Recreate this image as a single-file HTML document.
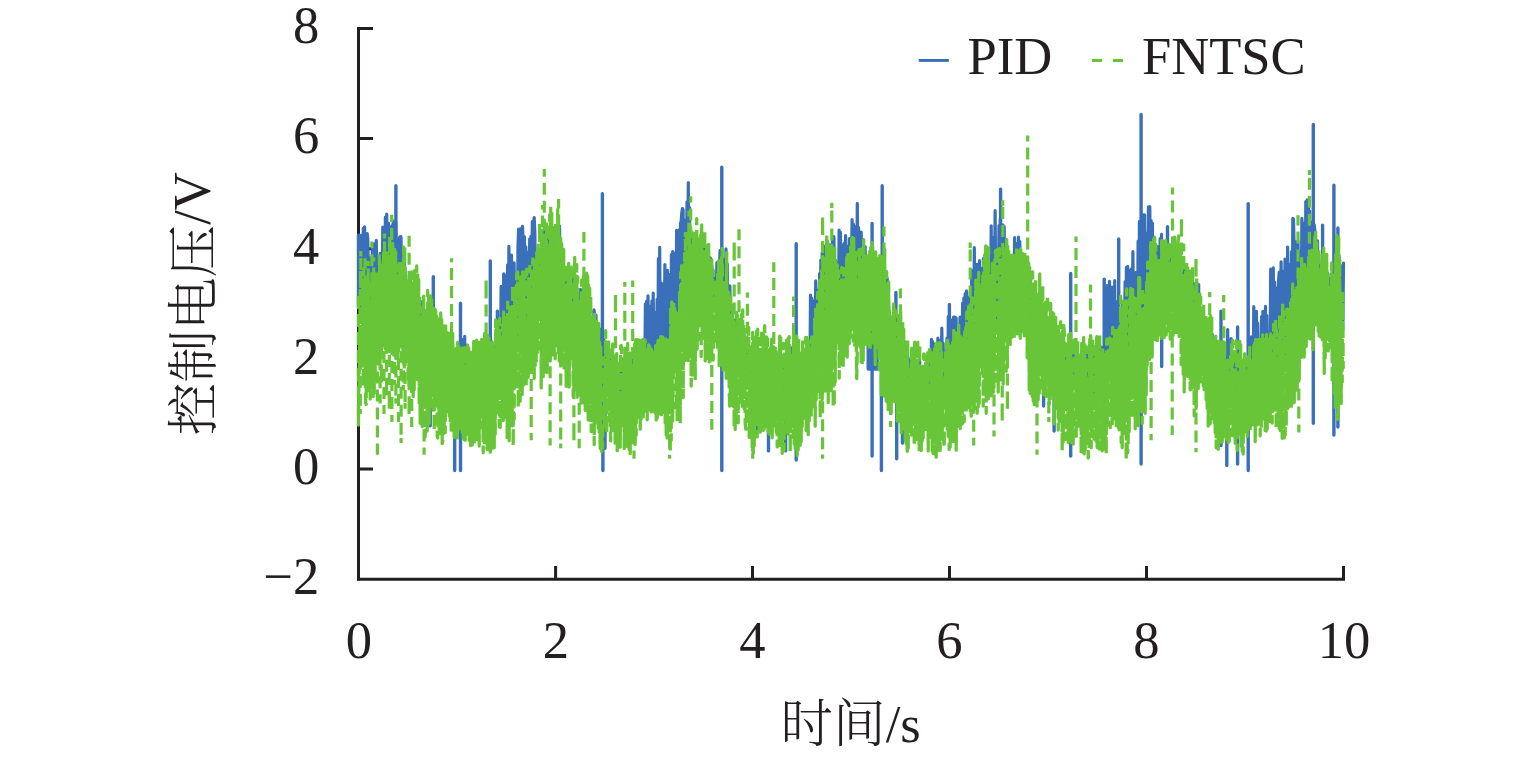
<!DOCTYPE html>
<html lang="zh">
<head>
<meta charset="utf-8">
<title>控制电压 PID / FNTSC</title>
<style>
html,body{margin:0;padding:0;background:#fff;}
body{width:1535px;height:758px;overflow:hidden;}
svg{display:block;}
text{font-family:"Liberation Serif","Noto Serif CJK SC",serif;font-size:52.6px;fill:#231f20;}
.cj{font-family:"Noto Serif CJK SC","Liberation Serif",serif;font-weight:300;}
</style>
</head>
<body>
<svg width="1535" height="758" viewBox="0 0 1535 758">
<rect width="1535" height="758" fill="#fff"/>
<g stroke="#231f20" stroke-width="3" fill="none" stroke-linecap="butt">
<path d="M358.5 27V580.6"/>
<path d="M357 579.2H1345"/>
<path d="M358.5 28.5H373M358.5 138.6H373M358.5 248.7H373M358.5 358.8H373M358.5 468.9H373"/>
<path d="M555.6 579V566M752.5 579V566M949.5 579V566M1146.5 579V566M1343.5 579V566"/>
</g>
<path d="M358.4 306.0L358.4 235.0L360.7 236.3L361.3 320.1L362.0 234.8L362.6 322.3L363.3 228.4L363.9 332.7L364.6 226.8L365.2 325.6L365.9 243.7L366.6 327.5L367.2 233.6L367.8 239.0L368.5 279.7L369.1 321.8L369.8 258.4L370.4 323.4L371.1 257.6L371.8 336.5L372.4 243.8L373.1 315.0L373.7 262.3L374.3 243.9L375.0 258.3L375.6 325.1L376.3 240.4L376.9 318.7L377.6 264.2L378.2 308.9L378.9 259.2L379.6 311.1L380.2 253.3L380.8 280.7L381.5 304.8L382.1 293.8L382.8 227.0L383.4 297.3L384.1 305.0L384.8 304.1L385.4 217.1L386.1 292.5L386.7 214.1L387.3 293.5L388.0 234.8L388.6 223.4L389.3 255.0L389.9 288.5L390.6 229.1L391.2 272.0L391.9 225.8L392.6 276.0L393.2 221.0L393.8 289.5L394.5 223.2L395.1 286.5L395.8 222.0L396.4 296.3L397.1 238.9L397.8 291.9L398.4 243.8L399.1 273.1L399.7 236.8L400.3 295.2L401.0 236.7L401.6 276.4L402.3 255.4L402.9 253.2L403.6 256.3L404.2 261.9L404.9 268.2L405.6 307.9L406.2 287.1L406.8 316.8L407.5 292.0L408.1 314.2L408.8 285.8L409.4 308.0L410.1 282.7L410.8 325.9L411.4 285.8L412.1 322.8L412.7 285.1L413.3 325.5L414.0 285.3L414.6 330.7L415.3 289.5L415.9 318.4L416.6 282.8L417.2 336.7L417.9 289.3L418.6 335.4L419.2 309.5L419.8 325.1L420.5 301.4L421.1 348.8L421.8 302.3L422.4 342.9L423.1 356.4L423.8 352.8L424.4 313.7L425.1 353.4L425.7 314.1L426.4 356.1L427.0 309.5L427.6 347.0L428.3 309.4L428.9 345.0L429.6 312.1L430.2 311.8L430.9 327.6L431.6 352.0L432.2 323.2L432.9 357.7L433.5 318.0L434.1 358.2L434.8 319.7L435.4 363.8L436.1 329.2L436.8 363.9L437.4 329.8L438.1 368.9L438.7 325.2L439.4 373.7L440.0 324.9L440.6 373.2L441.3 329.9L441.9 369.7L442.6 350.6L443.2 374.4L443.9 343.8L444.6 374.7L445.2 342.0L445.9 371.3L446.5 343.1L447.1 376.9L447.8 348.9L448.4 373.4L449.1 347.3L449.8 380.8L450.4 350.5L451.1 380.0L451.7 351.5L452.4 374.4L453.0 349.0L453.6 380.4L454.3 357.5L454.9 385.2L455.6 363.7L456.2 383.0L456.9 357.6L457.6 354.2L458.2 388.8L458.9 384.4L459.5 356.0L460.1 388.0L460.8 357.7L461.4 389.3L462.1 339.7L462.8 390.9L463.4 348.9L464.1 393.4L464.7 336.4L465.4 393.9L466.0 346.5L466.6 388.1L467.3 345.2L467.9 377.0L468.6 392.4L469.2 388.3L469.9 362.0L470.6 389.9L471.2 372.7L471.9 388.6L472.5 359.5L473.1 389.1L473.8 364.4L474.4 393.5L475.1 344.0L475.8 387.4L476.4 350.0L477.1 366.3L477.7 346.0L478.4 380.4L479.0 344.4L479.6 355.4L480.3 357.8L480.9 392.6L481.6 393.9L482.2 388.9L482.9 358.2L483.6 383.1L484.2 356.0L484.9 393.8L485.5 358.5L486.1 388.9L486.8 360.4L487.4 380.1L488.1 348.2L488.8 389.4L489.4 352.1L490.0 375.5L490.7 345.9L491.4 341.9L492.0 342.1L492.6 385.3L493.3 348.9L493.9 385.8L494.6 344.7L495.2 382.7L495.9 349.0L496.5 382.6L497.2 350.7L497.9 377.4L498.5 377.4L499.1 369.6L499.8 323.1L500.4 370.7L501.1 286.4L501.8 352.3L502.4 297.9L503.0 324.8L503.7 273.8L504.4 366.8L505.0 287.7L505.6 357.2L506.3 275.0L506.9 370.7L507.6 264.9L508.2 350.6L508.9 246.4L509.5 364.1L510.2 260.7L510.9 321.5L511.5 255.1L512.1 372.1L512.8 285.0L513.5 363.9L514.1 262.9L514.8 317.7L515.4 347.1L516.0 337.6L516.7 273.8L517.4 334.9L518.0 246.7L518.6 229.2L519.3 334.8L520.0 324.7L520.6 228.9L521.2 336.5L521.9 229.8L522.5 226.4L523.2 242.7L523.9 328.3L524.5 236.8L525.1 316.7L525.8 246.9L526.5 318.5L527.1 252.2L527.8 322.8L528.4 268.7L529.0 319.8L529.7 238.8L530.4 287.2L531.0 236.0L531.6 320.7L532.3 221.7L533.0 316.2L533.6 223.9L534.2 217.6L534.9 234.0L535.5 310.4L536.2 255.7L536.9 297.5L537.5 266.6L538.1 290.4L538.8 256.1L539.5 301.0L540.1 261.0L540.8 304.6L541.4 236.1L542.0 285.6L542.7 299.6L543.4 284.1L544.0 231.6L544.6 290.7L545.3 234.9L546.0 281.8L546.6 236.8L547.2 273.7L547.9 293.4L548.5 236.8L549.2 252.5L549.9 228.0L550.5 235.4L551.1 270.7L551.8 232.5L552.5 269.3L553.1 237.6L553.8 283.2L554.4 258.8L555.0 287.4L555.7 239.8L556.4 272.9L557.0 233.5L557.6 272.5L558.3 227.9L559.0 283.3L559.6 226.0L560.2 291.1L560.9 257.2L561.5 297.3L562.2 260.3L562.9 299.0L563.5 271.5L564.1 318.2L564.8 274.5L565.5 316.3L566.1 287.0L566.8 317.6L567.4 279.0L568.0 318.3L568.7 289.4L569.4 320.3L570.0 287.4L570.6 323.2L571.3 285.3L572.0 325.8L572.6 288.9L573.2 276.9L573.9 274.8L574.5 325.5L575.2 329.3L575.9 280.6L576.5 329.7L577.1 318.2L577.8 289.7L578.5 323.9L579.1 296.0L579.8 329.8L580.4 289.3L581.0 332.1L581.7 292.3L582.4 339.2L583.0 290.4L583.6 338.9L584.3 289.9L585.0 341.8L585.6 294.9L586.2 342.0L586.9 297.1L587.5 344.3L588.2 301.7L588.9 336.5L589.5 308.0L590.1 334.5L590.8 318.5L591.5 358.8L592.1 325.1L592.8 358.7L593.4 330.7L594.0 309.9L594.7 316.5L595.4 364.3L596.0 315.2L596.6 375.3L597.3 323.9L598.0 372.0L598.6 330.6L599.2 380.4L599.9 329.1L600.5 329.7L601.2 346.7L601.9 383.4L602.5 336.9L603.1 366.0L603.8 339.3L604.5 381.4L605.1 352.0L605.8 380.1L606.4 348.4L607.0 383.6L607.7 361.7L608.4 383.9L609.0 367.7L609.6 380.8L610.3 359.0L611.0 381.9L611.6 362.4L612.2 393.3L612.9 371.7L613.5 390.8L614.2 375.2L614.9 386.3L615.5 361.7L616.1 382.6L616.8 365.6L617.5 398.9L618.1 367.3L618.8 400.5L619.4 375.5L620.0 362.9L620.7 367.1L621.4 398.1L622.0 377.5L622.6 395.5L623.3 364.3L624.0 380.2L624.6 360.9L625.2 392.6L625.9 365.8L626.5 388.7L627.2 365.2L627.9 388.5L628.5 360.0L629.1 398.4L629.8 359.4L630.5 395.8L631.1 356.5L631.8 392.1L632.4 366.3L633.0 394.0L633.7 356.4L634.4 386.5L635.0 361.3L635.6 390.5L636.3 362.6L637.0 386.0L637.6 352.2L638.2 384.4L638.9 358.3L639.5 376.5L640.2 355.8L640.9 375.1L641.5 357.8L642.1 375.0L642.8 360.5L643.5 355.9L644.1 361.3L644.8 372.5L645.4 303.9L646.0 380.8L646.7 301.0L647.4 371.5L648.0 295.8L648.6 368.9L649.3 312.4L650.0 378.5L650.6 306.1L651.2 358.9L651.9 300.9L652.5 377.8L653.2 293.2L653.9 354.0L654.5 334.5L655.1 363.7L655.8 312.4L656.5 371.1L657.1 299.4L657.8 374.5L658.4 258.5L659.0 372.2L659.7 247.4L660.4 367.0L661.0 282.9L661.6 322.8L662.3 287.9L663.0 352.2L663.6 283.7L664.2 333.3L664.9 264.5L665.5 361.2L666.2 298.9L666.9 381.9L667.5 270.3L668.1 354.5L668.8 274.4L669.5 374.3L670.1 295.1L670.8 374.0L671.4 254.7L672.0 323.5L672.7 251.5L673.4 346.1L674.0 266.8L674.6 312.1L675.3 253.1L676.0 331.0L676.6 230.3L677.2 324.2L677.9 257.6L678.5 350.1L679.2 229.9L679.9 340.3L680.5 223.0L681.1 222.4L681.8 212.7L682.5 208.5L683.1 209.9L683.8 318.4L684.4 219.8L685.0 268.0L685.7 309.1L686.4 309.2L687.0 201.9L687.6 276.3L688.3 182.6L689.0 294.9L689.6 207.6L690.2 298.7L690.9 231.2L691.5 280.2L692.2 261.9L692.9 315.0L693.5 246.7L694.1 295.2L694.8 237.2L695.5 282.0L696.1 254.8L696.8 279.5L697.4 245.3L698.0 278.7L698.7 248.2L699.4 242.8L700.0 258.6L700.6 277.6L701.3 250.4L702.0 242.5L702.6 291.1L703.2 286.6L703.9 243.6L704.5 283.2L705.2 271.2L705.9 287.8L706.5 262.6L707.1 300.1L707.8 303.5L708.5 304.0L709.1 277.3L709.8 302.7L710.4 257.9L711.0 298.8L711.7 265.3L712.4 304.4L713.0 270.3L713.6 305.7L714.3 278.5L715.0 302.7L715.6 282.9L716.2 300.7L716.9 262.7L717.5 288.7L718.2 301.0L718.9 297.0L719.5 269.5L720.1 250.4L720.8 255.0L721.5 286.1L722.1 268.2L722.8 303.4L723.4 259.4L724.0 289.3L724.7 264.0L725.4 294.8L726.0 248.9L726.6 292.5L727.3 264.0L728.0 326.9L728.6 334.2L729.2 317.0L729.9 285.9L730.5 334.5L731.2 318.2L731.9 359.1L732.5 313.8L733.1 359.4L733.8 320.6L734.5 349.4L735.1 325.8L735.8 319.8L736.4 319.0L737.0 349.9L737.7 325.2L738.4 367.5L739.0 323.6L739.6 354.4L740.3 324.7L741.0 357.9L741.6 363.4L742.2 359.7L742.9 338.1L743.5 361.3L744.2 335.6L744.9 366.8L745.5 341.9L746.1 358.0L746.8 340.6L747.5 357.5L748.1 344.3L748.8 378.2L749.4 347.5L750.0 370.5L750.7 350.1L751.4 386.1L752.0 365.3L752.6 385.7L753.3 391.7L754.0 386.0L754.6 390.1L755.2 377.5L755.9 360.0L756.5 379.8L757.2 349.4L757.9 379.5L758.5 351.9L759.1 380.8L759.8 350.1L760.5 369.7L761.1 351.8L761.8 378.5L762.4 357.6L763.0 377.9L763.7 342.1L764.4 374.3L765.0 350.4L765.6 373.1L766.3 342.0L767.0 374.9L767.6 378.0L768.2 376.0L768.9 355.2L769.5 374.7L770.2 359.7L770.9 379.8L771.5 357.9L772.1 389.0L772.8 361.4L773.5 391.3L774.1 358.7L774.8 381.9L775.4 357.4L776.0 387.1L776.7 364.2L777.4 394.0L778.0 355.6L778.6 390.6L779.3 356.8L780.0 390.1L780.6 353.3L781.2 391.9L781.9 355.5L782.5 392.3L783.2 360.7L783.9 394.8L784.5 361.2L785.1 378.9L785.8 359.1L786.5 387.6L787.1 365.9L787.8 384.2L788.4 362.2L789.0 392.3L789.7 350.5L790.4 377.7L791.0 348.1L791.6 391.4L792.3 361.5L793.0 346.8L793.6 347.6L794.2 381.6L794.9 356.4L795.5 388.2L796.2 354.6L796.9 386.1L797.5 363.0L798.1 390.7L798.8 370.9L799.5 357.1L800.1 359.6L800.8 390.5L801.4 392.2L802.0 389.7L802.7 358.5L803.4 385.5L804.0 357.4L804.6 386.7L805.3 357.4L806.0 386.9L806.6 363.0L807.2 377.6L807.9 360.2L808.5 376.7L809.2 348.3L809.9 376.6L810.5 295.0L811.1 360.6L811.8 298.1L812.5 372.6L813.1 314.4L813.8 374.3L814.4 300.8L815.0 365.5L815.7 280.9L816.4 358.1L817.0 303.9L817.6 348.2L818.3 290.0L819.0 332.9L819.6 273.5L820.2 322.1L820.9 260.0L821.5 338.4L822.2 252.5L822.9 323.3L823.5 245.9L824.1 322.6L824.8 258.7L825.5 298.1L826.1 254.7L826.8 299.9L827.4 321.5L828.0 319.5L828.7 265.3L829.4 308.5L830.0 244.8L830.6 290.5L831.3 245.3L832.0 302.8L832.6 236.6L833.2 310.0L833.9 236.7L834.5 287.4L835.2 260.0L835.9 322.9L836.5 262.6L837.1 325.1L837.8 319.9L838.5 319.7L839.1 230.1L839.8 316.7L840.4 232.2L841.0 291.1L841.7 244.9L842.4 301.1L843.0 267.7L843.6 298.4L844.3 243.1L845.0 312.8L845.6 235.5L846.2 290.7L846.9 246.0L847.5 299.3L848.2 256.8L848.9 282.8L849.5 238.5L850.1 281.2L850.8 250.7L851.5 263.7L852.1 219.7L852.8 263.6L853.4 224.1L854.0 278.8L854.7 226.5L855.4 306.9L856.0 244.9L856.6 311.1L857.3 203.4L858.0 264.7L858.6 227.6L859.2 277.1L859.9 244.4L860.5 300.5L861.2 232.1L861.9 281.1L862.5 239.7L863.2 291.7L863.8 248.7L864.5 292.5L865.1 246.6L865.8 292.3L866.4 265.9L867.0 299.6L867.7 274.1L868.4 306.3L869.0 277.6L869.7 295.0L870.3 272.1L871.0 304.9L871.6 261.8L872.2 303.5L872.9 260.5L873.5 262.3L874.2 265.1L874.8 305.5L875.5 278.6L876.2 310.4L876.8 316.4L877.5 305.9L878.1 271.6L878.8 315.3L879.4 272.7L880.0 312.4L880.7 267.8L881.3 309.1L882.0 276.3L882.7 300.1L883.3 273.6L884.0 303.2L884.6 273.1L885.2 327.8L885.9 276.8L886.5 320.2L887.2 278.3L887.8 334.1L888.5 300.8L889.2 343.8L889.8 315.4L890.5 352.1L891.1 318.1L891.8 345.1L892.4 319.9L893.0 350.9L893.7 326.7L894.3 357.2L895.0 323.2L895.7 355.8L896.3 321.8L897.0 360.0L897.6 326.3L898.2 362.9L898.9 322.8L899.5 358.9L900.2 329.9L900.8 363.2L901.5 341.5L902.2 364.0L902.8 334.9L903.5 378.6L904.1 355.2L904.8 377.0L905.4 362.9L906.0 385.3L906.7 355.7L907.3 390.9L908.0 357.6L908.7 387.9L909.3 359.8L910.0 392.6L910.6 372.2L911.2 386.1L911.9 363.4L912.5 388.5L913.2 357.7L913.8 392.7L914.5 358.4L915.2 391.0L915.8 370.4L916.5 388.1L917.1 366.5L917.8 386.7L918.4 371.2L919.0 396.4L919.7 361.5L920.3 397.5L921.0 367.8L921.7 394.7L922.3 373.1L923.0 394.3L923.6 371.7L924.2 391.3L924.9 373.2L925.5 398.6L926.2 367.6L926.8 396.3L927.5 370.2L928.2 389.0L928.8 364.6L929.5 392.0L930.1 357.1L930.8 398.2L931.4 339.3L932.0 391.9L932.7 341.7L933.3 395.5L934.0 344.1L934.7 380.4L935.3 351.2L936.0 393.7L936.6 346.3L937.2 391.7L937.9 338.1L938.5 384.3L939.2 340.5L939.8 385.7L940.5 347.6L941.2 387.4L941.8 328.2L942.5 371.2L943.1 343.0L943.8 375.4L944.4 390.8L945.0 378.9L945.7 393.2L946.3 391.9L947.0 338.1L947.7 389.3L948.3 316.6L949.0 383.5L949.6 331.7L950.2 368.3L950.9 333.1L951.5 393.8L952.2 319.9L952.8 388.9L953.5 317.2L954.2 388.0L954.8 317.0L955.5 388.0L956.1 317.8L956.8 360.3L957.4 333.8L958.0 363.7L958.7 335.3L959.3 356.8L960.0 317.2L960.7 365.5L961.3 324.0L962.0 358.7L962.6 303.2L963.2 351.9L963.9 297.8L964.5 354.6L965.2 293.5L965.8 345.5L966.5 290.9L967.2 352.7L967.8 365.7L968.5 361.9L969.1 297.2L969.8 357.3L970.4 291.7L971.0 353.7L971.7 270.7L972.3 329.5L973.0 286.9L973.7 339.8L974.3 247.7L975.0 346.2L975.6 266.4L976.2 335.5L976.9 264.3L977.5 338.8L978.2 293.2L978.8 331.1L979.5 260.7L980.2 324.4L980.8 268.3L981.5 311.6L982.1 269.2L982.8 332.2L983.4 258.6L984.0 314.7L984.7 331.0L985.3 318.6L986.0 259.6L986.7 325.6L987.3 259.6L988.0 321.2L988.6 324.0L989.2 326.4L989.9 262.1L990.5 313.0L991.2 225.8L991.8 304.8L992.5 251.2L993.2 324.2L993.8 237.3L994.5 294.2L995.1 210.5L995.8 299.7L996.4 321.3L997.0 322.4L997.7 314.6L998.3 290.5L999.0 225.7L999.7 299.9L1000.3 218.7L1001.0 299.0L1001.6 233.3L1002.2 310.5L1002.9 224.9L1003.5 299.6L1004.2 226.5L1004.8 295.6L1005.5 307.4L1006.2 298.7L1006.8 261.6L1007.5 299.1L1008.1 256.4L1008.8 283.8L1009.4 260.7L1010.0 294.4L1010.7 275.7L1011.3 294.5L1012.0 264.5L1012.7 282.0L1013.3 260.1L1014.0 285.9L1014.6 237.7L1015.2 291.6L1015.9 243.4L1016.5 286.5L1017.2 289.9L1017.8 289.8L1018.5 237.2L1019.2 289.5L1019.8 241.5L1020.5 292.1L1021.1 256.8L1021.8 289.6L1022.4 263.8L1023.0 295.1L1023.7 255.8L1024.3 294.4L1025.0 267.0L1025.7 300.8L1026.3 271.2L1027.0 305.8L1027.6 286.7L1028.2 272.6L1028.9 278.1L1029.5 325.2L1030.2 273.1L1030.8 326.5L1031.5 292.2L1032.2 329.9L1032.8 301.7L1033.5 341.6L1034.1 300.2L1034.8 331.7L1035.4 308.8L1036.0 329.9L1036.7 294.8L1037.3 327.2L1038.0 301.3L1038.7 325.3L1039.3 301.7L1040.0 327.6L1040.6 295.8L1041.2 338.8L1041.9 313.5L1042.5 333.0L1043.2 309.6L1043.8 338.8L1044.5 307.5L1045.2 341.9L1045.8 311.2L1046.5 342.4L1047.1 318.3L1047.8 347.6L1048.4 318.2L1049.0 335.6L1049.7 321.4L1050.3 317.1L1051.0 317.7L1051.7 359.4L1052.3 320.1L1053.0 360.1L1053.6 334.3L1054.2 363.0L1054.9 328.5L1055.5 363.1L1056.2 342.1L1056.8 373.6L1057.5 329.8L1058.2 362.7L1058.8 336.8L1059.5 375.5L1060.1 341.3L1060.8 373.6L1061.4 337.5L1062.0 385.1L1062.7 340.4L1063.3 383.9L1064.0 356.0L1064.7 385.1L1065.3 356.7L1066.0 382.8L1066.6 352.5L1067.2 373.5L1067.9 358.6L1068.5 353.5L1069.2 352.6L1069.8 373.9L1070.5 350.2L1071.2 375.6L1071.8 387.9L1072.5 373.3L1073.1 352.5L1073.8 381.8L1074.4 356.9L1075.0 386.5L1075.7 356.7L1076.3 381.4L1077.0 352.6L1077.7 389.4L1078.3 354.7L1079.0 387.6L1079.6 364.4L1080.2 393.3L1080.9 361.8L1081.5 398.9L1082.2 371.4L1082.8 389.2L1083.5 358.7L1084.2 389.5L1084.8 370.2L1085.5 382.1L1086.1 348.0L1086.8 373.7L1087.4 347.9L1088.0 391.4L1088.7 350.6L1089.3 345.7L1090.0 347.1L1090.7 392.2L1091.3 354.8L1092.0 393.2L1092.6 355.7L1093.2 392.4L1093.9 360.0L1094.5 383.2L1095.2 354.7L1095.8 393.0L1096.5 352.8L1097.2 390.5L1097.8 361.2L1098.5 381.5L1099.1 347.5L1099.8 388.7L1100.4 349.1L1101.0 390.1L1101.7 347.0L1102.3 381.7L1103.0 356.9L1103.7 389.9L1104.3 361.2L1105.0 393.5L1105.6 288.8L1106.2 376.5L1106.9 285.6L1107.5 393.3L1108.2 294.8L1108.8 365.7L1109.5 281.3L1110.2 355.7L1110.8 312.4L1111.5 363.8L1112.1 287.1L1112.8 378.3L1113.4 299.9L1114.0 376.0L1114.7 280.7L1115.3 375.7L1116.0 301.6L1116.7 362.2L1117.3 347.0L1118.0 366.6L1118.6 327.3L1119.2 357.1L1119.9 330.2L1120.5 348.7L1121.2 366.4L1121.8 365.8L1122.5 304.9L1123.2 362.1L1123.8 309.2L1124.5 353.6L1125.1 281.5L1125.8 368.3L1126.4 267.4L1127.0 349.8L1127.7 266.3L1128.3 324.3L1129.0 270.1L1129.7 352.8L1130.3 275.8L1131.0 348.8L1131.6 268.8L1132.2 322.2L1132.9 251.5L1133.5 316.4L1134.2 354.0L1134.8 353.9L1135.5 272.7L1136.2 333.3L1136.8 286.1L1137.5 338.2L1138.1 241.0L1138.8 333.6L1139.4 221.4L1140.0 343.2L1140.7 248.5L1141.3 358.3L1142.0 214.0L1142.7 327.3L1143.3 356.0L1144.0 316.7L1144.6 214.8L1145.2 320.4L1145.9 234.2L1146.5 314.8L1147.2 233.2L1147.8 296.9L1148.5 206.9L1149.2 288.7L1149.8 206.7L1150.5 287.0L1151.1 220.5L1151.8 292.8L1152.4 223.2L1153.0 282.3L1153.7 237.0L1154.3 285.9L1155.0 248.5L1155.7 273.8L1156.3 246.4L1157.0 289.1L1157.6 246.7L1158.2 277.3L1158.9 253.0L1159.5 289.8L1160.2 238.5L1160.8 286.2L1161.5 234.4L1162.2 275.4L1162.8 244.1L1163.5 287.1L1164.1 248.0L1164.8 283.3L1165.4 258.2L1166.0 282.0L1166.7 262.6L1167.3 287.4L1168.0 262.6L1168.7 283.2L1169.3 258.1L1170.0 284.0L1170.6 257.3L1171.2 281.0L1171.9 264.8L1172.5 284.7L1173.2 252.0L1173.8 278.3L1174.5 254.1L1175.2 285.4L1175.8 249.9L1176.5 285.0L1177.1 259.5L1177.8 251.2L1178.4 253.5L1179.0 291.7L1179.7 298.2L1180.3 297.8L1181.0 266.8L1181.7 294.6L1182.3 270.7L1183.0 311.5L1183.6 267.9L1184.2 305.1L1184.9 270.8L1185.5 322.2L1186.2 277.5L1186.8 322.9L1187.5 276.2L1188.2 316.9L1188.8 289.2L1189.5 328.8L1190.1 287.8L1190.8 328.3L1191.4 279.1L1192.0 335.1L1192.7 334.2L1193.3 339.1L1194.0 283.7L1194.7 284.4L1195.3 289.7L1196.0 321.5L1196.6 292.7L1197.2 342.0L1197.9 297.4L1198.5 332.8L1199.2 320.8L1199.8 337.9L1200.5 322.6L1201.2 335.2L1201.8 322.0L1202.5 342.9L1203.1 322.2L1203.8 346.7L1204.4 329.3L1205.0 353.3L1205.7 333.1L1206.3 365.0L1207.0 346.8L1207.7 353.1L1208.3 333.7L1209.0 359.3L1209.6 329.5L1210.2 369.7L1210.9 336.0L1211.5 372.9L1212.2 334.2L1212.8 383.0L1213.5 341.2L1214.2 381.9L1214.8 364.6L1215.5 385.7L1216.1 356.8L1216.8 352.1L1217.4 355.5L1218.0 395.4L1218.7 359.3L1219.3 380.1L1220.0 370.8L1220.7 385.4L1221.3 358.3L1222.0 392.1L1222.6 355.8L1223.2 375.4L1223.9 353.2L1224.5 381.4L1225.2 361.8L1225.8 384.7L1226.5 360.1L1227.2 388.9L1227.8 362.8L1228.5 389.5L1229.1 355.4L1229.8 391.2L1230.4 359.6L1231.0 393.5L1231.7 360.7L1232.3 383.1L1233.0 356.5L1233.7 394.4L1234.3 362.3L1235.0 387.9L1235.6 370.1L1236.2 384.7L1236.9 366.7L1237.5 391.1L1238.2 352.9L1238.8 383.4L1239.5 360.8L1240.2 399.5L1240.8 379.8L1241.5 398.0L1242.1 375.3L1242.8 403.0L1243.4 373.1L1244.0 397.5L1244.7 374.8L1245.3 395.3L1246.0 367.8L1246.7 389.2L1247.3 375.5L1248.0 383.5L1248.6 367.1L1249.2 393.6L1249.9 338.7L1250.5 368.2L1251.2 336.8L1251.8 360.2L1252.5 390.9L1253.2 367.3L1253.8 306.6L1254.5 383.9L1255.1 331.1L1255.8 378.2L1256.4 311.3L1257.0 387.1L1257.7 323.0L1258.3 361.8L1259.0 385.1L1259.7 366.4L1260.3 343.8L1261.0 378.9L1261.6 316.6L1262.2 361.3L1262.9 311.3L1263.5 379.8L1264.2 336.2L1264.8 366.2L1265.5 306.3L1266.2 382.6L1266.8 315.5L1267.5 380.2L1268.1 348.4L1268.8 374.4L1269.4 346.3L1270.0 368.0L1270.7 269.0L1271.3 367.3L1272.0 297.5L1272.7 362.1L1273.3 267.8L1274.0 369.2L1274.6 282.2L1275.2 365.1L1275.9 311.2L1276.5 360.7L1277.2 287.8L1277.8 357.5L1278.5 281.1L1279.2 272.3L1279.8 283.9L1280.5 328.5L1281.1 261.8L1281.8 339.8L1282.4 271.2L1283.0 342.6L1283.7 279.4L1284.3 363.4L1285.0 259.1L1285.7 354.3L1286.3 282.6L1287.0 350.8L1287.6 247.0L1288.2 325.5L1288.9 264.6L1289.5 332.6L1290.2 276.3L1290.8 324.4L1291.5 251.6L1292.2 347.2L1292.8 218.4L1293.5 219.0L1294.1 247.7L1294.8 344.3L1295.4 241.5L1296.0 321.7L1296.7 260.6L1297.3 331.0L1298.0 241.3L1298.7 285.4L1299.3 251.9L1300.0 310.5L1300.6 260.5L1301.2 307.2L1301.9 218.4L1302.5 291.3L1303.2 227.3L1303.8 292.8L1304.5 223.2L1305.2 293.5L1305.8 201.6L1306.5 303.1L1307.1 199.9L1307.8 289.3L1308.4 204.7L1309.0 278.8L1309.7 211.0L1310.3 260.1L1311.0 226.2L1311.7 272.7L1312.3 222.0L1313.0 222.2L1313.6 228.6L1314.2 224.7L1314.9 231.3L1315.5 239.8L1316.2 257.9L1316.8 277.7L1317.5 240.9L1318.2 277.1L1318.8 254.6L1319.5 289.2L1320.1 267.6L1320.8 287.7L1321.4 302.9L1322.0 288.5L1322.7 276.8L1323.3 310.0L1324.0 274.7L1324.7 300.4L1325.3 265.3L1326.0 300.5L1326.6 270.4L1327.2 303.6L1327.9 273.5L1328.5 303.9L1329.2 281.5L1329.8 298.9L1330.5 278.4L1331.2 301.2L1331.8 278.1L1332.5 318.5L1333.1 272.3L1333.8 310.3L1334.4 268.2L1335.0 306.3L1335.7 269.6L1336.3 309.7L1337.0 273.8L1337.7 320.6L1338.3 326.6L1339.0 256.2L1339.6 274.5L1340.2 265.0L1340.9 276.6L1341.5 330.3L1342.2 289.3L1342.8 330.3L1343.5 263.1" fill="none" stroke="#3a6fba" stroke-width="3.2" stroke-linejoin="round" stroke-linecap="round"/>
<path d="M395.9 185.7v4.2v-4.2V298.5M430.2 425.8v-4.9v4.9V362.1M433.3 276.7v5.2v-5.2V364.9M447.3 340.1v6.1v-6.1V378.3M454.7 470.6v-4.9v4.9V385.7M460.5 303.2v6.0v-6.0V390.9M460.5 470.6v-0.5v0.5V390.9M490.3 260.9v3.2v-3.2V390.3M497.4 311.1v6.1v-6.1V380.3M547.0 226.6v4.3v-4.3V296.8M602.4 193.6v5.9v-5.9V383.5M602.9 470.6v-1.0v1.0V384.0M605.0 448.2v-3.2v3.2V381.0M721.8 167.2v1.8v-1.8V306.4M721.8 470.6v-3.7v3.7V306.4M757.4 432.4v-3.9v3.9V384.8M768.5 450.9v-0.4v0.4V381.4M785.6 450.9v-1.6v1.6V395.7M796.2 243.7v2.0v-2.0V397.5M796.2 460.1v-6.0v6.0V397.5M868.2 369.1v-5.0v5.0V308.4M870.3 369.1v-1.3v1.3V306.6M872.1 223.4v5.2v-5.2V305.1M872.1 456.1v-1.2v1.2V305.1M874.8 369.1v-4.1v4.1V311.0M877.2 369.1v-1.1v1.1V317.1M881.4 470.6v-0.3v0.3V323.6M882.2 185.7v5.7v-5.7V323.8M895.9 292.5v1.6v-1.6V362.1M896.7 458.8v-1.6v1.6V362.6M902.5 443.0v-6.4v6.4V375.9M949.4 304.5v5.7v-5.7V393.2M1000.6 189.1v2.1v-2.1V315.9M1043.6 406.0v-6.3v6.3V345.9M1054.1 431.1v-3.6v3.6V365.8M1070.7 273.5v4.5v-4.5V391.3M1070.7 456.1v-1.6v1.6V391.3M1104.2 279.3v6.1v-6.1V395.1M1118.7 239.0v4.6v-4.6V371.1M1141.1 114.5v6.3v-6.3V356.7M1141.1 464.1v-5.8v5.8V356.7M1161.7 366.5v-2.2v2.2V289.0M1167.5 226.6v2.5v-2.5V288.0M1198.6 284.6v1.3v-1.3V342.0M1221.0 311.1v1.2v-1.2V394.2M1221.0 445.6v-0.7v0.7V394.2M1226.8 465.4v-2.2v2.2V390.1M1227.6 329.6v4.0v-4.0V391.0M1231.1 338.8v0.3v-0.3V394.9M1237.6 326.9v4.5v-4.5V394.1M1237.6 464.1v-2.4v2.4V394.1M1248.2 203.6v2.2v-2.2V397.8M1248.2 470.6v-5.4v5.4V397.8M1313.3 124.5v3.3v-3.3V297.8M1313.3 423.2v-2.3v2.3V297.8M1322.6 225.3v3.3v-3.3V306.9M1333.9 185.2v4.7v-4.7V324.5M1333.9 435.0v-0.7v0.7V324.5M1337.9 227.9v6.3v-6.3V327.8M1337.9 427.1v-0.4v0.4V327.8" fill="none" stroke="#3a6fba" stroke-width="3.4" stroke-linecap="round"/>
<path d="M358.4 296.0L358.4 425.0L360.7 270.0L361.2 361.2L361.7 289.6L362.2 366.2L362.7 289.0L363.2 386.2L363.7 268.7L364.2 350.3L364.7 289.1L365.2 372.2L365.7 402.9L366.2 404.5L366.7 275.6L367.2 391.0L367.7 294.3L368.2 386.9L368.7 281.1L369.2 393.3L369.7 302.6L370.2 399.0L370.7 307.9L371.2 353.0L371.7 280.8L372.2 378.2L372.7 294.0L373.2 396.5L373.7 295.4L374.2 396.3L374.7 270.4L375.2 381.6L375.7 277.2L376.2 350.4L376.7 303.0L377.2 325.8L377.7 271.3L378.2 357.7L378.7 273.5L379.2 355.5L379.7 260.6L380.2 335.2L380.7 272.1L381.2 358.2L381.7 280.4L382.2 346.6L382.7 265.0L383.2 334.8L383.7 252.8L384.2 337.8L384.7 252.3L385.2 349.1L385.7 252.7L386.2 347.1L386.7 264.1L387.2 350.5L387.7 250.3L388.2 319.5L388.7 256.7L389.2 351.5L389.7 236.0L390.2 342.7L390.7 262.7L391.2 339.0L391.7 243.6L392.2 347.9L392.7 243.3L393.2 350.6L393.7 355.1L394.2 338.7L394.7 249.3L395.2 350.1L395.7 252.3L396.2 358.6L396.7 280.5L397.2 339.4L397.7 357.4L398.2 337.6L398.7 264.5L399.2 339.4L399.7 259.7L400.2 346.1L400.7 268.1L401.2 324.5L401.7 268.5L402.2 350.8L402.7 260.0L403.2 356.1L403.7 247.1L404.2 368.6L404.7 246.4L405.2 328.8L405.7 275.8L406.2 343.6L406.7 292.9L407.2 361.6L407.7 280.9L408.2 383.2L408.7 291.8L409.2 386.1L409.7 313.2L410.2 355.2L410.7 281.5L411.2 381.0L411.7 272.0L412.2 384.6L412.7 304.4L413.2 396.4L413.7 286.7L414.2 391.2L414.7 270.3L415.2 382.2L415.7 274.0L416.2 382.2L416.7 266.0L417.2 371.3L417.7 274.9L418.2 362.4L418.7 279.5L419.2 404.2L419.7 296.5L420.2 423.3L420.7 316.2L421.2 402.9L421.7 335.9L422.2 426.6L422.7 307.0L423.2 372.8L423.7 296.1L424.2 399.7L424.7 322.9L425.2 436.8L425.7 354.5L426.2 402.8L426.7 310.2L427.2 431.1L427.7 290.5L428.2 421.6L428.7 292.3L429.2 423.6L429.7 301.3L430.2 409.3L430.7 295.8L431.2 390.4L431.7 300.0L432.2 406.8L432.7 325.9L433.2 414.2L433.7 305.1L434.2 430.8L434.7 307.9L435.2 396.2L435.7 310.7L436.2 405.8L436.7 316.1L437.2 435.8L437.7 438.0L438.2 422.1L438.7 319.1L439.2 428.9L439.7 339.6L440.2 433.6L440.7 312.9L441.2 411.5L441.7 319.5L442.2 443.7L442.7 441.3L443.2 427.9L443.7 325.9L444.2 432.7L444.7 330.7L445.2 432.7L445.7 325.9L446.2 411.8L446.7 335.7L447.2 404.5L447.7 333.0L448.2 401.4L448.7 329.5L449.2 415.9L449.7 334.0L450.2 420.7L450.7 331.8L451.2 430.2L451.7 341.0L452.2 428.4L452.7 333.5L453.2 423.6L453.7 357.8L454.2 437.5L454.7 365.7L455.2 421.1L455.7 348.6L456.2 428.1L456.7 374.2L457.2 440.2L457.7 342.4L458.2 429.8L458.7 342.9L459.2 404.9L459.7 360.5L460.2 428.1L460.7 358.4L461.2 427.5L461.7 345.4L462.2 435.5L462.7 348.0L463.2 441.5L463.7 383.1L464.2 439.7L464.7 374.9L465.2 440.2L465.7 345.9L466.2 437.0L466.7 372.9L467.2 434.1L467.7 345.3L468.2 436.9L468.7 344.9L469.2 440.2L469.7 359.6L470.2 418.3L470.7 445.6L471.2 444.0L471.7 349.0L472.2 445.0L472.7 363.7L473.2 437.1L473.7 341.5L474.2 444.4L474.7 374.1L475.2 439.2L475.7 341.9L476.2 438.7L476.7 340.1L477.2 439.7L477.7 345.7L478.2 433.9L478.7 342.2L479.2 446.0L479.7 344.7L480.2 416.0L480.7 340.8L481.2 416.9L481.7 339.3L482.2 428.1L482.7 340.6L483.2 452.7L483.7 347.1L484.2 442.7L484.7 333.3L485.2 334.1L485.7 336.6L486.2 444.7L486.7 447.6L487.2 449.2L487.7 335.4L488.2 419.7L488.7 336.3L489.2 449.6L489.7 351.3L490.2 452.2L490.7 449.4L491.2 421.0L491.7 342.6L492.2 415.8L492.7 343.7L493.2 448.1L493.7 349.0L494.2 447.7L494.7 377.5L495.2 434.2L495.7 319.8L496.2 415.4L496.7 323.4L497.2 401.6L497.7 321.6L498.2 392.2L498.7 339.1L499.2 426.7L499.7 318.5L500.2 427.4L500.7 350.7L501.2 391.7L501.7 344.5L502.2 421.7L502.7 324.9L503.2 420.7L503.7 311.8L504.2 406.6L504.7 323.8L505.2 420.4L505.7 317.7L506.2 413.2L506.7 319.9L507.2 438.9L507.7 302.2L508.2 418.8L508.7 326.9L509.2 440.7L509.7 305.3L510.2 417.5L510.7 314.0L511.2 389.8L511.7 317.3L512.2 425.9L512.7 284.9L513.2 446.0L513.7 319.3L514.2 419.0L514.7 288.0L515.2 374.7L515.7 289.8L516.2 381.8L516.7 272.9L517.2 388.7L517.7 272.0L518.2 407.3L518.7 308.1L519.2 390.6L519.7 293.5L520.2 401.2L520.7 277.0L521.2 352.8L521.7 289.4L522.2 394.4L522.7 271.9L523.2 387.5L523.7 276.2L524.2 374.8L524.7 310.1L525.2 382.6L525.7 271.4L526.2 386.8L526.7 269.2L527.2 370.9L527.7 320.0L528.2 377.4L528.7 278.7L529.2 361.6L529.7 266.4L530.2 365.7L530.7 295.8L531.2 372.7L531.7 269.5L532.2 367.8L532.7 258.8L533.2 362.2L533.7 279.7L534.2 378.4L534.7 260.2L535.2 365.6L535.7 261.4L536.2 362.8L536.7 252.6L537.2 352.8L537.7 277.8L538.2 245.1L538.7 254.4L539.2 320.0L539.7 276.3L540.2 349.2L540.7 257.2L541.2 387.9L541.7 230.2L542.2 356.3L542.7 249.5L543.2 376.7L543.7 236.8L544.2 375.4L544.7 223.1L545.2 354.6L545.7 234.4L546.2 366.9L546.7 221.3L547.2 372.7L547.7 269.7L548.2 328.4L548.7 245.7L549.2 352.7L549.7 214.8L550.2 361.1L550.7 226.8L551.2 210.3L551.7 211.4L552.2 341.5L552.7 227.1L553.2 358.1L553.7 230.9L554.2 351.9L554.7 231.5L555.2 358.8L555.7 253.2L556.2 326.4L556.7 240.0L557.2 337.4L557.7 209.3L558.2 352.4L558.7 226.6L559.2 361.0L559.7 251.2L560.2 355.3L560.7 238.5L561.2 365.3L561.7 243.7L562.2 358.3L562.7 256.3L563.2 350.2L563.7 249.4L564.2 370.1L564.7 293.3L565.2 349.1L565.7 286.4L566.2 386.4L566.7 264.6L567.2 375.8L567.7 283.3L568.2 362.6L568.7 263.5L569.2 387.1L569.7 282.6L570.2 338.5L570.7 282.4L571.2 265.5L571.7 295.4L572.2 358.6L572.7 303.2L573.2 396.5L573.7 282.1L574.2 389.4L574.7 257.5L575.2 352.2L575.7 308.3L576.2 390.0L576.7 264.6L577.2 397.2L577.7 276.8L578.2 355.7L578.7 311.3L579.2 391.5L579.7 301.9L580.2 379.8L580.7 323.3L581.2 403.2L581.7 280.0L582.2 377.5L582.7 301.0L583.2 402.5L583.7 274.3L584.2 393.1L584.7 283.3L585.2 410.3L585.7 299.8L586.2 412.7L586.7 273.2L587.2 403.4L587.7 275.8L588.2 420.0L588.7 285.2L589.2 392.6L589.7 288.4L590.2 413.5L590.7 296.4L591.2 431.7L591.7 312.8L592.2 417.3L592.7 320.1L593.2 412.6L593.7 354.2L594.2 444.5L594.7 314.3L595.2 420.3L595.7 326.4L596.2 410.9L596.7 321.6L597.2 423.0L597.7 342.1L598.2 427.9L598.7 323.5L599.2 431.9L599.7 342.4L600.2 448.5L600.7 347.2L601.2 444.0L601.7 451.5L602.2 432.2L602.7 447.9L603.2 402.0L603.7 357.6L604.2 425.3L604.7 371.8L605.2 406.0L605.7 330.6L606.2 424.1L606.7 432.9L607.2 402.8L607.7 344.0L608.2 407.7L608.7 341.8L609.2 420.9L609.7 349.6L610.2 409.2L610.7 440.9L611.2 430.3L611.7 372.8L612.2 414.8L612.7 344.0L613.2 429.7L613.7 363.8L614.2 430.7L614.7 372.8L615.2 445.4L615.7 358.6L616.2 418.3L616.7 353.7L617.2 450.7L617.7 362.6L618.2 448.8L618.7 365.1L619.2 420.7L619.7 397.0L620.2 447.2L620.7 346.0L621.2 345.6L621.7 351.6L622.2 428.9L622.7 379.1L623.2 422.6L623.7 358.5L624.2 448.4L624.7 376.5L625.2 446.1L625.7 348.7L626.2 441.5L626.7 348.2L627.2 446.4L627.7 343.3L628.2 445.9L628.7 384.8L629.2 449.8L629.7 352.9L630.2 453.7L630.7 349.7L631.2 422.5L631.7 365.3L632.2 413.7L632.7 385.4L633.2 442.5L633.7 378.6L634.2 428.5L634.7 343.7L635.2 444.6L635.7 339.6L636.2 435.2L636.7 339.9L637.2 416.3L637.7 339.6L638.2 417.3L638.7 349.4L639.2 412.1L639.7 340.1L640.2 431.3L640.7 347.5L641.2 419.0L641.7 343.7L642.2 411.7L642.7 339.7L643.2 420.6L643.7 355.6L644.2 411.3L644.7 339.9L645.2 340.5L645.7 368.4L646.2 387.9L646.7 350.9L647.2 419.8L647.7 349.2L648.2 404.5L648.7 345.0L649.2 403.3L649.7 344.0L650.2 410.0L650.7 351.0L651.2 411.9L651.7 349.7L652.2 411.6L652.7 370.9L653.2 410.9L653.7 353.2L654.2 406.6L654.7 350.1L655.2 413.0L655.7 345.6L656.2 420.0L656.7 357.2L657.2 418.1L657.7 343.1L658.2 340.5L658.7 355.9L659.2 398.7L659.7 340.5L660.2 413.7L660.7 336.7L661.2 418.4L661.7 364.7L662.2 401.9L662.7 337.0L663.2 409.2L663.7 338.9L664.2 412.8L664.7 345.3L665.2 422.9L665.7 339.0L666.2 435.0L666.7 340.3L667.2 438.1L667.7 340.9L668.2 434.6L668.7 340.0L669.2 406.9L669.7 356.3L670.2 451.4L670.7 307.3L671.2 440.2L671.7 301.9L672.2 388.4L672.7 421.1L673.2 386.0L673.7 304.2L674.2 369.2L674.7 308.3L675.2 366.0L675.7 312.0L676.2 411.0L676.7 327.1L677.2 421.2L677.7 313.8L678.2 406.3L678.7 319.6L679.2 414.4L679.7 292.2L680.2 423.4L680.7 272.5L681.2 397.4L681.7 262.0L682.2 345.1L682.7 265.3L683.2 397.5L683.7 272.9L684.2 355.9L684.7 253.4L685.2 360.4L685.7 299.6L686.2 355.5L686.7 233.8L687.2 230.0L687.7 231.1L688.2 360.5L688.7 256.2L689.2 333.2L689.7 224.6L690.2 348.6L690.7 294.0L691.2 386.0L691.7 245.8L692.2 375.0L692.7 251.2L693.2 329.1L693.7 230.3L694.2 372.8L694.7 240.2L695.2 380.2L695.7 268.4L696.2 352.9L696.7 218.6L697.2 348.7L697.7 238.4L698.2 339.5L698.7 264.0L699.2 325.0L699.7 253.5L700.2 322.9L700.7 235.0L701.2 356.6L701.7 225.0L702.2 338.8L702.7 256.6L703.2 321.6L703.7 271.1L704.2 339.3L704.7 231.1L705.2 360.9L705.7 254.1L706.2 318.9L706.7 245.5L707.2 360.2L707.7 245.1L708.2 336.9L708.7 244.3L709.2 361.9L709.7 263.6L710.2 361.0L710.7 256.2L711.2 348.1L711.7 257.9L712.2 338.2L712.7 268.8L713.2 360.1L713.7 288.1L714.2 341.4L714.7 286.7L715.2 340.0L715.7 282.0L716.2 342.6L716.7 284.7L717.2 347.2L717.7 272.5L718.2 310.9L718.7 260.5L719.2 365.5L719.7 265.0L720.2 368.2L720.7 262.4L721.2 358.5L721.7 258.0L722.2 248.5L722.7 290.6L723.2 371.6L723.7 287.1L724.2 362.7L724.7 282.5L725.2 345.4L725.7 292.1L726.2 378.3L726.7 252.7L727.2 364.3L727.7 291.2L728.2 377.6L728.7 292.1L729.2 391.6L729.7 406.1L730.2 402.5L730.7 294.4L731.2 405.3L731.7 329.7L732.2 396.5L732.7 305.5L733.2 409.7L733.7 318.4L734.2 427.1L734.7 323.3L735.2 429.4L735.7 349.0L736.2 413.9L736.7 312.5L737.2 413.0L737.7 315.6L738.2 422.8L738.7 324.2L739.2 397.3L739.7 326.3L740.2 396.2L740.7 318.4L741.2 402.3L741.7 314.1L742.2 408.7L742.7 309.8L743.2 384.6L743.7 324.3L744.2 408.7L744.7 327.6L745.2 422.9L745.7 429.2L746.2 429.1L746.7 334.3L747.2 389.5L747.7 337.4L748.2 418.7L748.7 327.3L749.2 437.4L749.7 351.8L750.2 414.4L750.7 347.2L751.2 434.4L751.7 357.3L752.2 450.7L752.7 332.3L753.2 453.5L753.7 337.0L754.2 446.2L754.7 361.2L755.2 424.0L755.7 339.5L756.2 406.2L756.7 331.0L757.2 436.9L757.7 329.2L758.2 412.4L758.7 363.8L759.2 429.6L759.7 338.0L760.2 432.2L760.7 364.6L761.2 423.7L761.7 330.2L762.2 416.0L762.7 348.1L763.2 430.4L763.7 334.8L764.2 428.9L764.7 325.6L765.2 423.0L765.7 345.3L766.2 426.5L766.7 336.9L767.2 418.3L767.7 338.8L768.2 432.1L768.7 351.7L769.2 434.1L769.7 350.3L770.2 433.2L770.7 344.5L771.2 429.1L771.7 339.1L772.2 437.8L772.7 358.1L773.2 423.7L773.7 346.8L774.2 428.5L774.7 355.8L775.2 421.2L775.7 348.3L776.2 432.2L776.7 349.6L777.2 446.9L777.7 369.3L778.2 419.9L778.7 358.9L779.2 448.5L779.7 336.2L780.2 434.9L780.7 336.6L781.2 417.7L781.7 367.5L782.2 453.3L782.7 366.6L783.2 431.2L783.7 343.3L784.2 450.3L784.7 350.1L785.2 408.3L785.7 356.9L786.2 429.9L786.7 339.8L787.2 432.2L787.7 342.8L788.2 434.1L788.7 338.0L789.2 336.8L789.7 352.9L790.2 451.6L790.7 354.9L791.2 422.9L791.7 360.5L792.2 413.5L792.7 363.1L793.2 437.6L793.7 334.1L794.2 444.0L794.7 340.7L795.2 448.5L795.7 339.7L796.2 414.5L796.7 336.0L797.2 455.5L797.7 343.1L798.2 449.8L798.7 340.3L799.2 432.7L799.7 358.5L800.2 445.3L800.7 353.4L801.2 441.4L801.7 376.7L802.2 427.5L802.7 338.9L803.2 418.5L803.7 354.1L804.2 413.9L804.7 347.0L805.2 417.8L805.7 337.5L806.2 430.5L806.7 337.4L807.2 428.6L807.7 346.8L808.2 434.7L808.7 341.0L809.2 422.8L809.7 363.3L810.2 407.5L810.7 348.0L811.2 418.2L811.7 336.9L812.2 406.5L812.7 339.5L813.2 391.0L813.7 348.9L814.2 400.9L814.7 318.8L815.2 426.2L815.7 309.2L816.2 399.6L816.7 319.1L817.2 393.8L817.7 292.4L818.2 392.7L818.7 304.3L819.2 393.4L819.7 280.4L820.2 417.8L820.7 283.7L821.2 365.4L821.7 270.6L822.2 399.4L822.7 256.4L823.2 385.3L823.7 322.4L824.2 388.1L824.7 255.4L825.2 391.1L825.7 290.3L826.2 381.6L826.7 236.8L827.2 384.9L827.7 241.5L828.2 402.6L828.7 266.0L829.2 244.2L829.7 251.6L830.2 386.6L830.7 246.4L831.2 394.2L831.7 245.5L832.2 356.0L832.7 250.9L833.2 407.9L833.7 280.8L834.2 406.1L834.7 244.3L835.2 382.3L835.7 260.6L836.2 344.7L836.7 266.4L837.2 264.8L837.7 283.0L838.2 339.2L838.7 271.0L839.2 378.0L839.7 279.1L840.2 364.8L840.7 296.0L841.2 353.9L841.7 267.4L842.2 359.3L842.7 278.2L843.2 367.6L843.7 268.5L844.2 354.6L844.7 284.4L845.2 341.2L845.7 289.2L846.2 357.5L846.7 257.3L847.2 357.1L847.7 252.2L848.2 342.4L848.7 252.1L849.2 343.5L849.7 257.9L850.2 337.3L850.7 246.8L851.2 324.0L851.7 239.2L852.2 323.2L852.7 237.5L853.2 341.2L853.7 238.5L854.2 331.6L854.7 345.2L855.2 342.8L855.7 252.4L856.2 335.7L856.7 378.6L857.2 356.3L857.7 284.1L858.2 338.3L858.7 249.8L859.2 342.3L859.7 246.0L860.2 347.2L860.7 263.2L861.2 363.1L861.7 271.5L862.2 364.4L862.7 248.1L863.2 361.7L863.7 239.6L864.2 319.6L864.7 283.5L865.2 344.0L865.7 256.2L866.2 336.4L866.7 257.9L867.2 346.6L867.7 275.8L868.2 259.2L868.7 255.2L869.2 347.3L869.7 251.5L870.2 349.7L870.7 247.6L871.2 321.2L871.7 279.3L872.2 242.6L872.7 247.8L873.2 343.0L873.7 252.0L874.2 329.1L874.7 265.1L875.2 364.6L875.7 252.0L876.2 351.5L876.7 258.0L877.2 333.5L877.7 283.4L878.2 345.8L878.7 269.6L879.2 369.8L879.7 255.6L880.2 358.1L880.7 271.1L881.2 394.8L881.7 274.2L882.2 354.3L882.7 253.4L883.2 370.4L883.7 286.0L884.2 396.1L884.7 250.0L885.2 375.6L885.7 298.8L886.2 401.1L886.7 271.7L887.2 402.1L887.7 293.8L888.2 409.7L888.7 281.9L889.2 405.9L889.7 310.8L890.2 412.1L890.7 316.8L891.2 413.0L891.7 318.0L892.2 392.9L892.7 322.8L893.2 401.2L893.7 304.0L894.2 401.5L894.7 309.5L895.2 401.5L895.7 311.0L896.2 399.6L896.7 335.0L897.2 421.1L897.7 349.8L898.2 395.4L898.7 315.3L899.2 421.7L899.7 331.2L900.2 404.2L900.7 310.6L901.2 433.1L901.7 320.2L902.2 419.2L902.7 322.2L903.2 429.1L903.7 329.2L904.2 417.8L904.7 366.3L905.2 440.3L905.7 341.9L906.2 443.6L906.7 354.4L907.2 451.3L907.7 340.1L908.2 451.0L908.7 384.1L909.2 413.1L909.7 377.8L910.2 431.7L910.7 365.9L911.2 435.1L911.7 348.2L912.2 398.8L912.7 352.4L913.2 422.1L913.7 351.2L914.2 445.0L914.7 342.1L915.2 429.3L915.7 371.4L916.2 439.5L916.7 367.8L917.2 340.7L917.7 342.1L918.2 422.3L918.7 378.5L919.2 451.3L919.7 344.9L920.2 446.8L920.7 389.4L921.2 450.6L921.7 369.0L922.2 441.2L922.7 377.0L923.2 437.9L923.7 354.0L924.2 354.3L924.7 365.1L925.2 429.7L925.7 362.7L926.2 428.6L926.7 364.1L927.2 413.9L927.7 352.6L928.2 450.9L928.7 375.9L929.2 346.8L929.7 349.3L930.2 435.7L930.7 364.7L931.2 439.7L931.7 350.3L932.2 451.1L932.7 371.8L933.2 453.5L933.7 356.7L934.2 453.8L934.7 348.7L935.2 439.8L935.7 344.6L936.2 457.2L936.7 343.0L937.2 451.0L937.7 344.7L938.2 434.0L938.7 369.0L939.2 445.4L939.7 342.5L940.2 450.4L940.7 343.5L941.2 440.3L941.7 352.3L942.2 435.3L942.7 382.7L943.2 415.0L943.7 441.2L944.2 447.6L944.7 356.6L945.2 406.6L945.7 350.3L946.2 414.6L946.7 343.1L947.2 429.2L947.7 340.4L948.2 436.6L948.7 344.5L949.2 449.6L949.7 357.0L950.2 446.9L950.7 349.2L951.2 440.9L951.7 346.0L952.2 427.5L952.7 342.5L953.2 441.7L953.7 330.5L954.2 414.1L954.7 361.1L955.2 429.9L955.7 332.8L956.2 450.2L956.7 341.1L957.2 417.6L957.7 370.0L958.2 428.6L958.7 325.1L959.2 406.3L959.7 344.8L960.2 428.5L960.7 336.3L961.2 412.4L961.7 355.0L962.2 424.0L962.7 338.7L963.2 402.5L963.7 352.1L964.2 421.8L964.7 331.1L965.2 395.7L965.7 325.6L966.2 411.7L966.7 312.0L967.2 390.0L967.7 340.7L968.2 407.4L968.7 303.5L969.2 404.4L969.7 310.5L970.2 410.7L970.7 322.4L971.2 416.2L971.7 296.2L972.2 404.3L972.7 334.4L973.2 380.7L973.7 325.0L974.2 408.7L974.7 298.0L975.2 396.1L975.7 280.2L976.2 372.7L976.7 284.6L977.2 413.2L977.7 317.7L978.2 410.0L978.7 272.4L979.2 406.0L979.7 286.9L980.2 348.6L980.7 285.9L981.2 367.9L981.7 292.7L982.2 373.2L982.7 275.8L983.2 406.0L983.7 260.4L984.2 386.2L984.7 253.7L985.2 387.4L985.7 245.9L986.2 413.3L986.7 314.0L987.2 246.9L987.7 256.9L988.2 398.9L988.7 248.6L989.2 352.4L989.7 283.5L990.2 393.5L990.7 273.4L991.2 395.9L991.7 312.0L992.2 389.3L992.7 263.2L993.2 392.5L993.7 273.2L994.2 368.6L994.7 265.1L995.2 252.4L995.7 250.4L996.2 380.9L996.7 249.4L997.2 252.7L997.7 249.4L998.2 392.1L998.7 305.0L999.2 372.1L999.7 248.6L1000.2 381.6L1000.7 278.1L1001.2 379.9L1001.7 289.6L1002.2 371.6L1002.7 258.6L1003.2 384.0L1003.7 252.6L1004.2 320.5L1004.7 262.2L1005.2 327.7L1005.7 247.9L1006.2 371.2L1006.7 239.7L1007.2 367.4L1007.7 246.5L1008.2 332.5L1008.7 248.3L1009.2 321.8L1009.7 255.0L1010.2 344.4L1010.7 255.9L1011.2 327.3L1011.7 281.0L1012.2 337.0L1012.7 252.3L1013.2 330.8L1013.7 256.7L1014.2 338.6L1014.7 256.3L1015.2 324.9L1015.7 259.1L1016.2 323.4L1016.7 247.9L1017.2 333.9L1017.7 256.8L1018.2 324.3L1018.7 258.9L1019.2 327.7L1019.7 251.0L1020.2 338.3L1020.7 249.0L1021.2 325.1L1021.7 254.0L1022.2 331.4L1022.7 252.0L1023.2 314.9L1023.7 256.6L1024.2 335.8L1024.7 252.5L1025.2 325.3L1025.7 260.5L1026.2 330.0L1026.7 259.2L1027.2 357.5L1027.7 261.8L1028.2 358.8L1028.7 263.1L1029.2 389.8L1029.7 267.5L1030.2 393.3L1030.7 272.0L1031.2 372.2L1031.7 307.1L1032.2 396.5L1032.7 271.9L1033.2 400.9L1033.7 298.8L1034.2 404.7L1034.7 312.9L1035.2 400.9L1035.7 279.8L1036.2 404.5L1036.7 292.5L1037.2 372.2L1037.7 294.6L1038.2 399.6L1038.7 294.4L1039.2 395.5L1039.7 274.0L1040.2 362.5L1040.7 313.9L1041.2 372.1L1041.7 302.4L1042.2 388.3L1042.7 284.8L1043.2 394.4L1043.7 312.2L1044.2 361.3L1044.7 303.3L1045.2 397.9L1045.7 302.2L1046.2 396.4L1046.7 326.9L1047.2 296.1L1047.7 300.0L1048.2 382.5L1048.7 321.7L1049.2 403.9L1049.7 320.4L1050.2 401.1L1050.7 303.4L1051.2 384.7L1051.7 313.6L1052.2 394.5L1052.7 312.7L1053.2 393.0L1053.7 314.0L1054.2 423.8L1054.7 327.1L1055.2 408.6L1055.7 317.5L1056.2 407.6L1056.7 337.9L1057.2 407.0L1057.7 346.8L1058.2 430.1L1058.7 326.2L1059.2 421.5L1059.7 346.5L1060.2 422.8L1060.7 321.7L1061.2 421.1L1061.7 356.5L1062.2 450.7L1062.7 330.5L1063.2 441.9L1063.7 325.4L1064.2 330.8L1064.7 338.8L1065.2 439.4L1065.7 370.9L1066.2 407.0L1066.7 341.1L1067.2 408.5L1067.7 357.5L1068.2 442.5L1068.7 334.6L1069.2 438.1L1069.7 369.2L1070.2 430.8L1070.7 333.5L1071.2 442.6L1071.7 359.3L1072.2 402.0L1072.7 441.3L1073.2 444.2L1073.7 337.9L1074.2 435.9L1074.7 336.3L1075.2 417.3L1075.7 361.5L1076.2 438.2L1076.7 353.7L1077.2 413.2L1077.7 339.0L1078.2 426.2L1078.7 351.7L1079.2 415.6L1079.7 363.8L1080.2 428.4L1080.7 386.3L1081.2 453.8L1081.7 343.5L1082.2 442.4L1082.7 368.6L1083.2 452.4L1083.7 337.5L1084.2 453.8L1084.7 344.6L1085.2 449.6L1085.7 368.3L1086.2 436.7L1086.7 347.2L1087.2 442.1L1087.7 379.8L1088.2 458.0L1088.7 452.4L1089.2 444.3L1089.7 339.4L1090.2 411.5L1090.7 336.0L1091.2 447.8L1091.7 352.4L1092.2 436.8L1092.7 338.2L1093.2 427.6L1093.7 365.6L1094.2 439.1L1094.7 348.6L1095.2 436.4L1095.7 345.8L1096.2 441.2L1096.7 336.7L1097.2 447.4L1097.7 342.3L1098.2 440.8L1098.7 340.8L1099.2 449.0L1099.7 333.6L1100.2 423.2L1100.7 364.7L1101.2 434.8L1101.7 348.2L1102.2 450.8L1102.7 350.0L1103.2 452.7L1103.7 381.3L1104.2 420.5L1104.7 354.5L1105.2 438.5L1105.7 359.4L1106.2 453.9L1106.7 338.9L1107.2 425.5L1107.7 361.3L1108.2 409.3L1108.7 347.1L1109.2 401.5L1109.7 337.8L1110.2 427.7L1110.7 340.5L1111.2 406.8L1111.7 344.9L1112.2 426.7L1112.7 327.4L1113.2 419.0L1113.7 351.3L1114.2 416.4L1114.7 331.0L1115.2 416.6L1115.7 330.7L1116.2 425.7L1116.7 339.1L1117.2 405.9L1117.7 330.1L1118.2 427.3L1118.7 329.7L1119.2 429.9L1119.7 327.0L1120.2 428.5L1120.7 296.5L1121.2 442.4L1121.7 311.5L1122.2 447.7L1122.7 307.2L1123.2 433.8L1123.7 300.8L1124.2 425.8L1124.7 307.0L1125.2 413.4L1125.7 301.0L1126.2 459.5L1126.7 288.9L1127.2 450.7L1127.7 452.7L1128.2 443.2L1128.7 347.8L1129.2 431.6L1129.7 298.6L1130.2 384.7L1130.7 288.4L1131.2 411.1L1131.7 319.0L1132.2 417.8L1132.7 289.3L1133.2 397.2L1133.7 297.4L1134.2 368.7L1134.7 339.2L1135.2 428.8L1135.7 315.7L1136.2 416.4L1136.7 296.2L1137.2 423.6L1137.7 306.1L1138.2 425.6L1138.7 277.5L1139.2 393.7L1139.7 277.6L1140.2 390.1L1140.7 309.8L1141.2 411.8L1141.7 311.5L1142.2 423.5L1142.7 288.2L1143.2 390.9L1143.7 308.5L1144.2 401.3L1144.7 319.1L1145.2 413.3L1145.7 291.2L1146.2 395.1L1146.7 280.6L1147.2 365.3L1147.7 261.9L1148.2 354.4L1148.7 280.8L1149.2 344.9L1149.7 359.3L1150.2 332.2L1150.7 242.7L1151.2 336.8L1151.7 257.3L1152.2 357.0L1152.7 242.5L1153.2 316.3L1153.7 238.8L1154.2 335.9L1154.7 237.2L1155.2 339.5L1155.7 244.1L1156.2 337.3L1156.7 263.8L1157.2 342.8L1157.7 287.7L1158.2 329.6L1158.7 260.3L1159.2 334.8L1159.7 271.5L1160.2 323.7L1160.7 264.7L1161.2 338.3L1161.7 240.6L1162.2 335.7L1162.7 241.0L1163.2 312.2L1163.7 247.4L1164.2 337.4L1164.7 241.3L1165.2 323.8L1165.7 240.3L1166.2 334.9L1166.7 249.8L1167.2 322.8L1167.7 264.8L1168.2 330.5L1168.7 243.0L1169.2 327.9L1169.7 272.4L1170.2 339.1L1170.7 249.6L1171.2 241.7L1171.7 270.2L1172.2 308.9L1172.7 245.1L1173.2 335.1L1173.7 255.5L1174.2 318.7L1174.7 237.2L1175.2 308.3L1175.7 246.7L1176.2 335.2L1176.7 247.7L1177.2 329.9L1177.7 246.6L1178.2 240.7L1178.7 235.8L1179.2 336.5L1179.7 277.8L1180.2 339.1L1180.7 248.7L1181.2 364.5L1181.7 282.3L1182.2 358.6L1182.7 285.0L1183.2 374.2L1183.7 244.8L1184.2 391.9L1184.7 295.0L1185.2 374.9L1185.7 272.0L1186.2 372.5L1186.7 260.9L1187.2 376.0L1187.7 267.9L1188.2 376.3L1188.7 288.4L1189.2 370.9L1189.7 274.8L1190.2 389.8L1190.7 270.8L1191.2 390.6L1191.7 279.4L1192.2 381.0L1192.7 266.1L1193.2 391.1L1193.7 308.6L1194.2 415.7L1194.7 292.3L1195.2 392.5L1195.7 294.3L1196.2 408.3L1196.7 277.0L1197.2 359.8L1197.7 296.6L1198.2 388.7L1198.7 294.8L1199.2 378.1L1199.7 292.6L1200.2 382.1L1200.7 296.7L1201.2 367.5L1201.7 310.6L1202.2 366.7L1202.7 317.0L1203.2 385.5L1203.7 304.3L1204.2 389.7L1204.7 335.5L1205.2 373.7L1205.7 314.5L1206.2 400.1L1206.7 322.9L1207.2 408.2L1207.7 319.2L1208.2 426.0L1208.7 328.0L1209.2 381.9L1209.7 317.6L1210.2 423.8L1210.7 316.0L1211.2 401.9L1211.7 316.6L1212.2 421.7L1212.7 339.6L1213.2 410.6L1213.7 355.9L1214.2 422.7L1214.7 340.9L1215.2 432.5L1215.7 336.2L1216.2 447.8L1216.7 353.9L1217.2 424.7L1217.7 363.7L1218.2 449.3L1218.7 341.2L1219.2 432.4L1219.7 374.0L1220.2 446.0L1220.7 341.6L1221.2 425.1L1221.7 373.1L1222.2 441.8L1222.7 375.7L1223.2 436.6L1223.7 341.8L1224.2 436.0L1224.7 339.8L1225.2 428.0L1225.7 362.9L1226.2 439.0L1226.7 362.8L1227.2 417.5L1227.7 360.1L1228.2 442.7L1228.7 360.7L1229.2 444.2L1229.7 383.0L1230.2 417.7L1230.7 352.8L1231.2 435.5L1231.7 344.1L1232.2 422.7L1232.7 340.4L1233.2 438.7L1233.7 367.9L1234.2 433.0L1234.7 374.4L1235.2 443.3L1235.7 355.0L1236.2 340.7L1236.7 351.7L1237.2 450.4L1237.7 342.6L1238.2 426.2L1238.7 382.6L1239.2 424.9L1239.7 341.3L1240.2 434.0L1240.7 344.6L1241.2 446.2L1241.7 362.6L1242.2 451.0L1242.7 365.1L1243.2 453.9L1243.7 359.8L1244.2 424.9L1244.7 353.7L1245.2 427.8L1245.7 375.1L1246.2 431.7L1246.7 374.5L1247.2 436.3L1247.7 359.2L1248.2 429.6L1248.7 356.3L1249.2 414.3L1249.7 347.3L1250.2 431.6L1250.7 364.4L1251.2 410.1L1251.7 362.8L1252.2 423.3L1252.7 359.1L1253.2 424.8L1253.7 343.1L1254.2 417.8L1254.7 343.1L1255.2 441.7L1255.7 339.3L1256.2 344.4L1256.7 365.6L1257.2 424.9L1257.7 344.3L1258.2 401.8L1258.7 339.4L1259.2 422.7L1259.7 353.9L1260.2 435.8L1260.7 336.8L1261.2 429.2L1261.7 352.6L1262.2 409.8L1262.7 334.9L1263.2 418.7L1263.7 338.9L1264.2 410.7L1264.7 343.5L1265.2 430.5L1265.7 341.3L1266.2 431.0L1266.7 334.5L1267.2 428.9L1267.7 355.0L1268.2 412.8L1268.7 340.6L1269.2 400.0L1269.7 336.1L1270.2 423.4L1270.7 334.0L1271.2 405.0L1271.7 352.9L1272.2 423.1L1272.7 360.1L1273.2 400.4L1273.7 324.1L1274.2 409.9L1274.7 333.3L1275.2 410.2L1275.7 319.6L1276.2 429.2L1276.7 330.0L1277.2 404.8L1277.7 357.3L1278.2 418.4L1278.7 334.1L1279.2 428.3L1279.7 313.2L1280.2 430.5L1280.7 315.7L1281.2 429.2L1281.7 342.0L1282.2 438.3L1282.7 303.3L1283.2 429.4L1283.7 311.3L1284.2 437.9L1284.7 318.5L1285.2 434.9L1285.7 346.7L1286.2 427.1L1286.7 309.1L1287.2 410.4L1287.7 309.2L1288.2 407.5L1288.7 343.6L1289.2 383.8L1289.7 309.7L1290.2 405.5L1290.7 302.4L1291.2 408.8L1291.7 299.1L1292.2 377.8L1292.7 283.8L1293.2 402.9L1293.7 290.3L1294.2 405.4L1294.7 300.5L1295.2 381.1L1295.7 316.4L1296.2 390.9L1296.7 285.1L1297.2 394.1L1297.7 297.5L1298.2 371.2L1298.7 273.4L1299.2 379.0L1299.7 269.7L1300.2 355.0L1300.7 299.9L1301.2 357.4L1301.7 258.4L1302.2 355.3L1302.7 270.0L1303.2 341.4L1303.7 296.7L1304.2 357.0L1304.7 264.6L1305.2 334.3L1305.7 269.2L1306.2 346.4L1306.7 268.9L1307.2 338.7L1307.7 270.5L1308.2 331.8L1308.7 257.1L1309.2 327.2L1309.7 287.6L1310.2 339.0L1310.7 259.3L1311.2 323.7L1311.7 250.2L1312.2 330.5L1312.7 271.4L1313.2 349.7L1313.7 268.0L1314.2 319.0L1314.7 236.9L1315.2 325.0L1315.7 231.2L1316.2 301.7L1316.7 241.6L1317.2 317.6L1317.7 261.3L1318.2 331.3L1318.7 248.2L1319.2 339.1L1319.7 289.6L1320.2 336.7L1320.7 273.9L1321.2 335.2L1321.7 263.6L1322.2 339.7L1322.7 254.6L1323.2 333.7L1323.7 248.2L1324.2 373.4L1324.7 290.0L1325.2 358.0L1325.7 257.6L1326.2 350.0L1326.7 254.4L1327.2 331.9L1327.7 273.8L1328.2 350.9L1328.7 290.5L1329.2 341.1L1329.7 292.3L1330.2 333.2L1330.7 287.0L1331.2 347.7L1331.7 263.0L1332.2 383.0L1332.7 274.8L1333.2 335.1L1333.7 275.7L1334.2 393.3L1334.7 274.6L1335.2 407.3L1335.7 254.4L1336.2 367.3L1336.7 235.5L1337.2 419.3L1337.7 251.4L1338.2 419.1L1338.7 237.7L1339.2 389.4L1339.7 259.4L1340.2 396.8L1340.7 293.7L1341.2 403.6L1341.7 329.0L1342.2 382.2L1342.7 293.3L1343.2 368.7" fill="none" stroke="#67c537" stroke-width="3.3" stroke-linejoin="round" stroke-dasharray="13 5"/>
<path d="M360.3 413.9v-4.9v4.9V336.9M360.8 251.1v5.5v-5.5V337.0M365.0 258.2v0.4v-0.4V337.1M368.2 260.9v5.2v-5.2V336.5M371.9 241.4v2.6v-2.6V335.1M373.7 257.2v3.9v-3.9V334.4M377.4 454.8v-0.4v0.4V313.7M379.3 254.3v0.6v-0.6V311.1M380.1 403.4v-1.4v1.4V310.0M381.4 382.3v-6.2v6.2V308.1M384.0 413.9v-1.5v1.5V303.6M384.5 233.4v5.0v-5.0V302.8M386.6 395.5v-6.1v6.1V298.9M389.3 408.7v-6.1v6.1V295.2M391.7 214.7v2.4v-2.4V295.5M391.9 421.9v-2.5v2.5V295.5M394.6 384.9v-3.6v3.6V297.4M395.9 403.4v-5.1v5.1V298.5M398.5 421.9v-1.0v1.0V300.7M401.1 443.0v-4.9v4.9V302.5M403.3 390.2v-5.2v5.2V306.4M405.1 408.7v-5.6v5.6V311.4M409.1 235.8v0.5v-0.5V323.6M409.1 413.9v-6.2v6.2V323.6M411.7 427.1v-0.9v0.9V331.5M424.1 454.8v-2.4v2.4V361.5M451.5 258.2v4.1v-4.1V382.6M486.1 280.6v6.0v-6.0V393.3M531.2 440.3v-2.4v2.4V329.3M539.6 223.9v6.0v-6.0V315.0M542.5 205.0v3.7v-3.7V300.8M544.3 169.1v2.2v-2.2V298.0M550.1 445.6v-2.3v2.3V287.6M550.7 206.8v1.4v-1.4V285.8M555.4 223.9v0.8v-0.8V290.9M558.6 198.9v1.2v-1.2V283.5M560.7 448.2v-4.6v4.6V296.0M573.9 440.3v-6.5v6.5V327.3M579.2 448.2v-1.3v1.3V338.1M583.9 231.9v0.6v-0.6V340.2M615.5 295.1v6.4v-6.4V396.9M624.8 282.0v3.6v-3.6V395.8M632.7 280.6v2.8v-2.8V394.7M634.0 458.8v-1.8v1.8V393.3M669.6 458.8v-4.0v4.0V383.6M685.4 231.9v5.4v-5.4V313.9M688.9 210.8v3.1v-3.1V298.4M690.7 196.3v2.9v-2.9V302.5M711.8 429.8v-0.6v0.6V305.1M734.2 242.4v6.0v-6.0V364.5M739.0 229.2v0.5v-0.5V367.3M747.4 292.5v3.4v-3.4V375.4M752.7 458.8v-5.5v5.5V394.2M773.8 262.2v1.1v-1.1V392.8M793.6 296.5v4.8v-4.8V394.5M822.6 217.4v6.2v-6.2V339.0M822.6 458.8v-4.2v4.2V339.0M831.8 202.8v5.2v-5.2V322.2M884.0 226.6v1.0v-1.0V324.2M890.6 427.1v-3.0v3.0V354.1M900.4 288.6v1.2v-1.2V367.0M970.2 242.4v5.5v-5.5V362.1M973.7 445.6v-2.1v2.1V358.0M994.0 436.4v-3.1v3.1V325.5M1002.2 420.5v-6.5v6.5V313.2M1002.7 200.2v5.6v-5.6V312.4M1007.4 408.7v-6.4v6.4V303.6M1027.7 135.6v3.1v-3.1V307.3M1037.0 454.8v-3.3v3.3V339.7M1048.8 421.9v-4.8v4.8V352.8M1076.0 236.6v3.3v-3.3V386.8M1090.5 284.6v2.1v-2.1V392.7M1151.1 440.3v-2.8v2.8V300.2M1172.2 435.0v-1.2v1.2V287.4M1172.5 187.6v2.6v-2.6V287.3M1181.5 219.2v6.4v-6.4V306.3M1196.0 259.0v6.3v-6.3V345.3M1196.0 452.2v-4.2v4.2V345.3M1209.7 292.0v3.4v-3.4V372.0M1223.7 295.1v2.4v-2.4V391.9M1298.0 215.2v0.9v-0.9V331.7M1298.8 432.4v-2.0v2.0V329.0M1309.4 169.9v5.1v-5.1V298.8" fill="none" stroke="#67c537" stroke-width="3.2" stroke-dasharray="12 6"/>
<g text-anchor="end">
<text x="319.3" y="43.3">8</text>
<text x="319.3" y="153.4">6</text>
<text x="319.3" y="263.5">4</text>
<text x="319.3" y="373.6">2</text>
<text x="319.3" y="483.7">0</text>
<text x="319.3" y="593.8">−2</text>
</g>
<g text-anchor="middle">
<text x="359" y="658.3">0</text>
<text x="555.8" y="658.3">2</text>
<text x="752.5" y="658.3">4</text>
<text x="949.5" y="658.3">6</text>
<text x="1146.5" y="658.3">8</text>
<text x="1344" y="658.3">10</text>
</g>
<text x="850.6" y="741.5" text-anchor="middle"><tspan class="cj">时间</tspan>/s</text>
<text transform="translate(210.4 303.7) rotate(-90)" text-anchor="middle"><tspan class="cj" dy="1.8">控制电压</tspan><tspan dy="-1.8">/V</tspan></text>
<path d="M918.7 60.45H948.9" stroke="#3a6fba" stroke-width="2.9" fill="none"/>
<path d="M1092 60.45H1123" stroke="#67c537" stroke-width="2.9" fill="none" stroke-dasharray="10.1 10.8"/>
<text x="967.5" y="73.8">PID</text>
<text x="1142" y="73.8">FNTSC</text>
</svg>
</body>
</html>
